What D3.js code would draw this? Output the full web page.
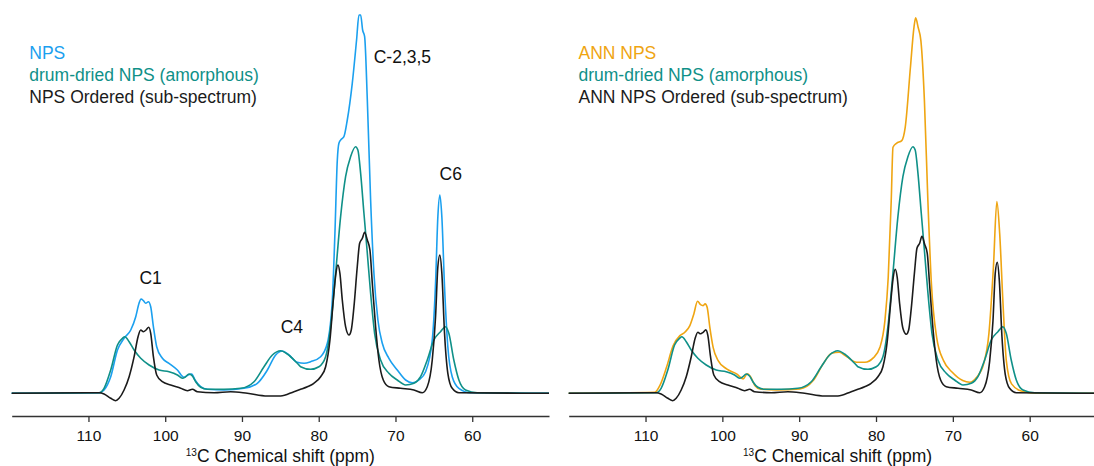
<!DOCTYPE html>
<html>
<head>
<meta charset="utf-8">
<script src="https://cdn.jsdelivr.net/npm/d3@7"></script>
<style>
  html, body { margin: 0; padding: 0; background: #fff; }
  svg { display: block; font-family: "Liberation Sans", Arial, Helvetica, sans-serif; }
</style>
</head>
<body>
<svg id="chart" width="1094" height="466"></svg>
<script>
// 13C CP/MAS spectra, [ppm, intensity] (arbitrary units)
var nps = [
  [120, 0], [108.6, 0.5], [107.97, 3.3], [107.1, 16.6], [106.22, 43.3], [105.36, 55],
  [104.49, 63.3], [103.84, 76.6], [103.41, 90], [103.15, 94.3], [102.84, 92.6], [102.54, 90],
  [102.19, 91.6], [101.89, 86.6], [101.54, 66.6], [101.11, 46.6], [100.37, 35], [99.51, 30],
  [98.41, 23.3], [97.55, 16], [97.03, 18.3], [96.55, 19.3], [96.12, 13.3], [95.38, 6.6],
  [94.51, 4], [92.34, 3.3], [89.74, 5], [88.0, 10], [86.69, 23.3], [85.61, 38.3],
  [84.74, 42.3], [83.88, 38.3], [82.79, 31], [81.9, 30], [81.05, 31.6], [79.75, 36.6],
  [78.88, 50], [78.23, 93.3], [77.89, 160], [77.58, 233], [77.37, 250], [77.06, 254],
  [76.72, 256.6], [76.28, 273.3], [75.63, 310], [75.07, 353.3], [74.76, 378.3], [74.54, 378.3],
  [74.28, 363.3], [74.02, 356.6], [73.67, 293.3], [73.24, 193.3], [72.81, 120], [72.29, 73.3],
  [71.72, 50], [70.86, 35], [69.77, 23.3], [68.68, 13.3], [67.81, 10.6], [66.95, 13.3],
  [66.08, 21.6], [65.21, 53.3], [64.78, 110], [64.48, 176.6], [64.22, 198.3], [63.96, 176.6],
  [63.61, 106.6], [63.18, 46.6], [62.61, 16.6], [61.74, 5], [60.22, 0.6], [50, 0]
];

var amorphous = [
  [120, 0], [108.62, 0.6], [107.97, 5], [107.1, 23.3], [106.22, 48.3], [105.57, 55],
  [105.27, 56.6], [104.7, 51.6], [104.05, 43.3], [103.19, 35], [102.1, 28.3], [100.8, 23.3],
  [99.5, 21.6], [98.41, 18.3], [97.76, 15], [97.33, 16.6], [96.9, 19.3], [96.46, 17.3],
  [96.03, 11.6], [95.38, 6], [94.51, 4], [92.34, 4], [90.17, 5], [88.43, 11.6],
  [87.13, 26.6], [86.04, 38.3], [84.96, 42.6], [84.09, 39.3], [82.79, 30], [82.36, 26.6],
  [81.05, 24], [79.97, 26.6], [79.1, 36.6], [78.45, 66.6], [77.8, 120], [77.15, 176.6],
  [76.5, 216.6], [75.85, 236.6], [75.2, 246.6], [74.9, 243.3], [74.54, 220], [74.11, 180],
  [73.67, 140], [73.24, 100], [72.72, 60], [71.94, 33.3], [70.86, 20], [69.77, 13.3],
  [68.68, 8.3], [67.6, 10], [66.73, 16.6], [65.86, 33.3], [65.0, 53.3], [64.13, 61.6],
  [63.48, 66.6], [63.05, 60], [62.4, 33.3], [61.74, 13.3], [60.87, 3.3], [59.35, 0.6], [50, 0]
];

var npsOrdered = [
  [120, 0], [108.62, 0.6], [107.97, -0.7], [107.1, -5], [106.45, -7.4], [106.01, -5],
  [105.36, 3.3], [104.7, 16.6], [104.05, 36.6], [103.54, 56.6], [103.19, 63.3], [102.84, 61.6],
  [102.5, 63.3], [102.15, 66], [101.89, 60], [101.54, 36.6], [101.11, 18.3], [100.37, 11.6],
  [99.29, 8.3], [97.98, 5], [97.11, 2.6], [96.46, 4], [95.81, 1.6], [93.64, 0.6],
  [91.47, 1.6], [89.3, 0], [86.69, -2.7], [84.96, -2.7], [83.23, 1.6], [82.36, 4],
  [81.48, 6.6], [80.63, 10], [79.75, 16.6], [79.1, 26.6], [78.54, 53.3], [78.1, 93.3],
  [77.76, 120], [77.5, 128.3], [77.24, 120], [76.93, 93.3], [76.5, 66.6], [76.06, 58.3],
  [75.76, 63.3], [75.41, 86.6], [74.98, 126.6], [74.67, 150], [74.32, 155], [74.02, 161],
  [73.67, 153.3], [73.33, 143.3], [73.02, 110], [72.59, 66.6], [72.16, 33.3], [71.59, 13.3],
  [70.86, 6.6], [69.34, 5], [67.6, 3.3], [66.51, 0.6], [65.86, 6.6], [65.21, 33.3],
  [64.78, 76.6], [64.48, 126.6], [64.22, 138.3], [63.96, 120], [63.61, 60], [63.18, 20],
  [62.61, 5], [61.74, 0.6], [50, 0]
];

var annNps = [
  [120, 0], [108.79, 1], [108.14, 7.7], [107.27, 26], [106.4, 47.7], [105.53, 57.7],
  [104.88, 61], [104.23, 67.7], [103.71, 79.4], [103.23, 92], [102.84, 88.7], [102.5, 87.7],
  [102.24, 89.4], [101.98, 86], [101.63, 66], [101.2, 46], [100.55, 32.7], [99.45, 24.4],
  [98.15, 19.4], [97.29, 14.4], [96.77, 19.4], [96.33, 16.7], [95.77, 7.7], [95.12, 4.4],
  [92.94, 3.4], [89.91, 4.4], [88.18, 12.7], [86.88, 29.4], [85.78, 40], [84.79, 41],
  [83.83, 36.7], [82.53, 31], [81.45, 31], [80.36, 35.4], [79.49, 46], [78.84, 72.7],
  [78.41, 116], [78.02, 192.7], [77.79, 246], [77.33, 250], [76.65, 252.7], [76.2, 266],
  [75.52, 326], [75.06, 366], [74.84, 375.4], [74.52, 366], [74.16, 352.7], [73.7, 292.7],
  [73.25, 192.7], [72.79, 109.4], [72.11, 56], [71.21, 32.7], [70.07, 21], [68.71, 12.7],
  [67.8, 11], [66.9, 16], [65.99, 29.4], [65.31, 59.4], [64.72, 126], [64.27, 191.7],
  [63.9, 159.4], [63.49, 92.7], [63.04, 32.7], [62.36, 9.4], [61.0, 2], [59.18, 0], [50, 0]
];

var annOrdered = [
  [120, 0], [108.62, 0.6], [107.97, -0.7], [107.1, -5], [106.45, -7.4], [106.01, -5],
  [105.36, 3.3], [104.7, 16.6], [104.05, 36.6], [103.54, 55], [103.19, 61], [102.84, 59.5],
  [102.5, 61], [102.15, 63.4], [101.89, 58], [101.54, 36.6], [101.11, 18.3], [100.37, 11.6],
  [99.29, 8.3], [97.98, 5], [97.11, 2.6], [96.46, 4], [95.81, 1.6], [93.64, 0.6],
  [91.47, 1.6], [89.3, 0], [86.69, -2.7], [84.96, -2.7], [83.23, 1.6], [82.36, 4],
  [81.48, 6.6], [80.63, 10], [79.75, 16.6], [79.1, 26.6], [78.54, 52], [78.1, 90],
  [77.76, 116], [77.5, 124], [77.24, 116], [76.93, 90], [76.5, 65], [76.06, 59],
  [75.76, 63], [75.41, 85], [74.98, 122], [74.67, 145], [74.32, 150], [74.02, 157],
  [73.67, 149], [73.33, 140], [73.02, 108], [72.59, 65], [72.16, 33.3], [71.59, 13.3],
  [70.86, 6.6], [69.34, 5], [67.6, 3.3], [66.51, 0.6], [65.86, 6.6], [65.21, 32],
  [64.78, 72], [64.48, 120], [64.22, 131], [63.96, 114], [63.61, 57], [63.18, 19],
  [62.61, 5], [61.74, 0.6], [50, 0]
];

var tickValues = [110, 100, 90, 80, 70, 60];
var leftLegend = ["NPS", "drum-dried NPS (amorphous)", "NPS Ordered (sub-spectrum)"];
var rightLegend = ["ANN NPS", "drum-dried NPS (amorphous)", "ANN NPS Ordered (sub-spectrum)"];
var peakNames = ["C1", "C4", "C-2,3,5", "C6"];
var peakPpm = [101.9, 83.5, 69.1, 62.8];
var peakHeight = [109, 60, 330, 213];

var BLUE = "#1ba0ef", TEAL = "#0f9088", ORANGE = "#efa512", BLACK = "#1b1b1b";

var svg = d3.select("#chart");
var y = d3.scaleLinear().domain([0, 380]).range([393.3, 13.3]);

function drawPanel(x, series, colors, legend, legendX, labels) {
  var g = svg.append("g");

  var line = d3.line()
    .x(function (d) { return x(d[0]); })
    .y(function (d) { return y(d[1]); })
    .curve(d3.curveMonotoneX);

  series.forEach(function (s, i) {
    g.append("path")
      .datum(s)
      .attr("fill", "none")
      .attr("stroke", colors[i])
      .attr("stroke-width", 1.6)
      .attr("stroke-linejoin", "round")
      .attr("d", line);
  });

  var axis = g.append("g")
    .attr("transform", "translate(0,416)")
    .call(d3.axisBottom(x).tickValues(tickValues).tickSize(6).tickSizeOuter(0).tickPadding(8));
  axis.select(".domain").attr("stroke", "#333").attr("stroke-width", 1.6);
  axis.selectAll(".tick line").attr("stroke", "#333").attr("stroke-width", 1.3);
  axis.selectAll(".tick text")
    .attr("fill", "#111")
    .style("font-size", "15.5px")
    .style("font-family", "'Liberation Sans', Arial, sans-serif");

  var title = g.append("text")
    .attr("x", (x.range()[0] + x.range()[1]) / 2)
    .attr("y", 462)
    .attr("text-anchor", "middle")
    .attr("fill", "#111")
    .style("font-size", "17.5px");
  title.append("tspan").text("13").style("font-size", "10px").attr("dy", "-6");
  title.append("tspan").text("C Chemical shift (ppm)").attr("dy", "6");

  legend.forEach(function (t, i) {
    g.append("text")
      .attr("x", legendX)
      .attr("y", 59.3 + i * 22)
      .attr("fill", colors[i])
      .style("font-size", "17.5px")
      .text(t);
  });

  if (labels) {
    peakNames.forEach(function (t, i) {
      g.append("text")
        .attr("x", x(peakPpm[i]))
        .attr("y", y(peakHeight[i]))
        .attr("text-anchor", "middle")
        .attr("fill", "#111")
        .style("font-size", "17.5px")
        .text(t);
    });
  }
}

var xLeft = d3.scaleLinear().domain([120, 50]).range([11.7, 549]);
var xRight = d3.scaleLinear().domain([120, 50]).range([568.7, 1106.5]);

drawPanel(xLeft, [nps, amorphous, npsOrdered], [BLUE, TEAL, BLACK], leftLegend, 29.3, true);
drawPanel(xRight, [annNps, amorphous, annOrdered], [ORANGE, TEAL, BLACK], rightLegend, 578.5, false);
</script>
</body>
</html>
